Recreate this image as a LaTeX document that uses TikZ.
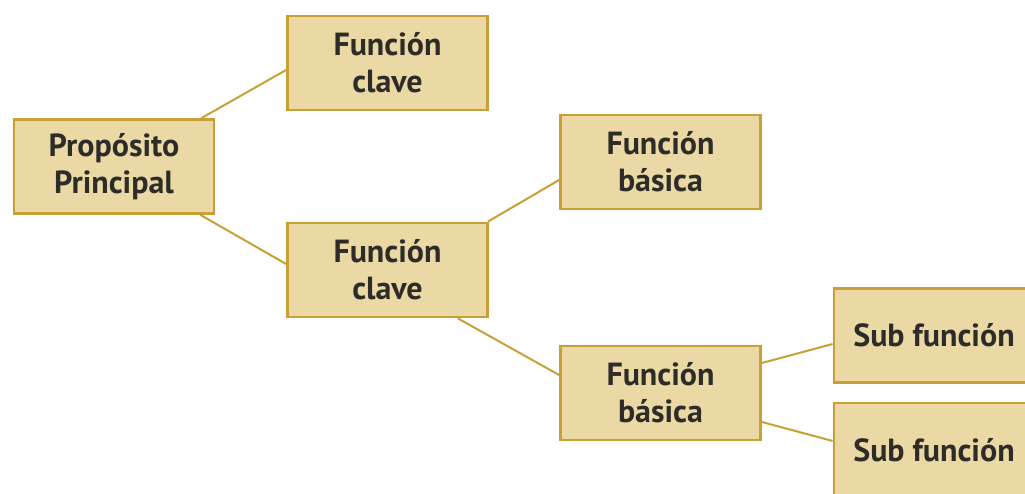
\documentclass[tikz,border=0pt]{standalone}
\usepackage{fontspec}
\setmainfont{PT Sans}
\usetikzlibrary{calc}
\definecolor{boxfill}{HTML}{EAD9A4}
\definecolor{boxline}{HTML}{C9A038}
\definecolor{boxtext}{HTML}{2E2C28}
\tikzset{
  fbox/.style={draw=boxline, fill=boxfill, line width=2.8pt,
    minimum width=200pt, minimum height=94pt, inner sep=0pt,
    align=center, text=boxtext,
    font=\bfseries\fontsize{32}{37}\selectfont},
  link/.style={draw=boxline, line width=2pt}
}
\begin{document}
\begin{tikzpicture}[x=1pt,y=-1pt]
  \useasboundingbox (0,0) rectangle (1025,493);
  \clip (0,0) rectangle (1025,493);
  % boxes
  \node[fbox] (pp)  at (114,166.5) {Propósito\\Principal};
  \node[fbox] (fc1) at (387.5,63)  {Función\\clave};
  \node[fbox] (fc2) at (387.5,270) {Función\\clave};
  \node[fbox] (fb1) at (660.5,162) {Función\\básica};
  \node[fbox] (fb2) at (660.5,393) {Función\\básica};
  \node[fbox] (sf1) at (934,335.5) {Sub función};
  \node[fbox] (sf2) at (934,450)   {Sub función};
  % connectors
  \draw[link] ($(pp.north east)+(-14,0)$) -- ($(fc1.west)+(0,7)$);
  \draw[link] ($(pp.south east)+(-15,0)$) -- ($(fc2.west)+(0,-6)$);
  \draw[link] ($(fc2.north east)+(-1,0)$) -- ($(fb1.west)+(0,18)$);
  \draw[link] ($(fc2.south east)+(-31,0)$) -- ($(fb2.west)+(0,-18)$);
  \draw[link] ($(fb2.east)+(0,-30)$) -- ($(sf1.west)+(0,8.5)$);
  \draw[link] ($(fb2.east)+(0,29)$) -- ($(sf2.west)+(0,-9)$);
\end{tikzpicture}
\end{document}
